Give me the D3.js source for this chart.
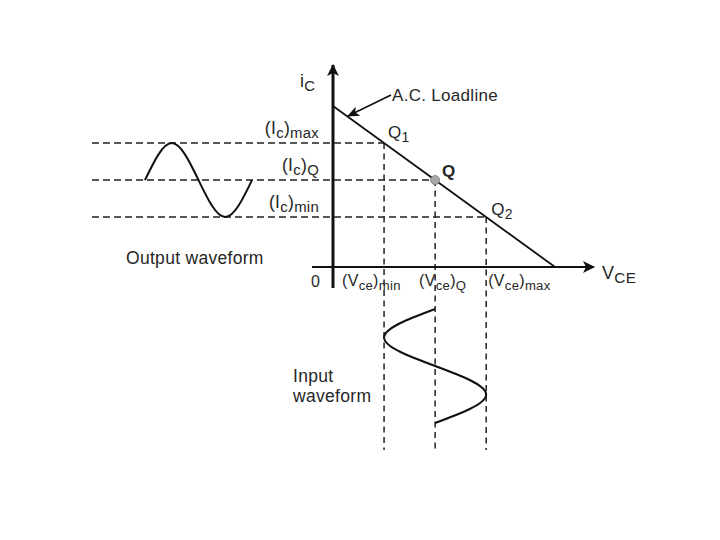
<!DOCTYPE html>
<html lang="en">
<head>
<meta charset="UTF-8">
<title>A.C. Loadline</title>
<script src="https://d3js.org/d3.v7.min.js"></script>
<style>
  body { margin: 0; background: #fff; }
  svg { display: block; font-family: "Liberation Sans", Arial, sans-serif; }
  text { fill: #262626; }
</style>
</head>
<body>
<div id="chart"></div>
<script>
// operating points on the load line: Q1, Q, Q2
const pointNames = ["Q1", "Q", "Q2"];
const icLevels = ["max", "Q", "min"];
const icValues = [7.7, 5.4, 3.1];
const vceValues = [2.3, 4.6, 6.9];
// load line end points (vce, ic)
const loadline = [[0, 10], [10, 0]];
// output waveform: one cycle of ic
const outPhase = [0, 0.25, 0.5, 0.75, 1];
const outIc = [5.4, 7.7, 5.4, 3.1, 5.4];
// input waveform: one cycle of vce (drawn downwards)
const inPhase = [0, 0.25, 0.5, 0.75, 1];
const inVce = [4.6, 2.3, 4.6, 6.9, 4.6];

const width = 720, height = 540;
const svg = d3.select("#chart").append("svg")
  .attr("width", width).attr("height", height);

const x = d3.scaleLinear().domain([0, 10]).range([333, 555]);
const y = d3.scaleLinear().domain([0, 10]).range([267, 106]);
const tOut = d3.scaleLinear().domain([0, 1]).range([145, 252]);
const tIn = d3.scaleLinear().domain([0, 1]).range([309, 423]);

// arrow heads
const defs = svg.append("defs");
defs.append("marker").attr("id", "axisArrow")
  .attr("viewBox", "0 0 12 12").attr("refX", 11).attr("refY", 6)
  .attr("markerWidth", 12).attr("markerHeight", 12)
  .attr("markerUnits", "userSpaceOnUse").attr("orient", "auto")
  .append("path").attr("d", "M0,0 L12,6 L0,12 L3,6 Z").attr("fill", "#111");
defs.append("marker").attr("id", "noteArrow")
  .attr("viewBox", "0 0 12 12").attr("refX", 11).attr("refY", 6)
  .attr("markerWidth", 12).attr("markerHeight", 12)
  .attr("markerUnits", "userSpaceOnUse").attr("orient", "auto")
  .append("path").attr("d", "M0,1 L12,6 L0,11 L3,6 Z").attr("fill", "#111");

const dashed = svg.append("g")
  .attr("stroke", "#222").attr("stroke-width", 1.5).attr("fill", "none");

// horizontal dashed lines from far left to each operating point
dashed.selectAll("line.h").data(icValues).join("line")
  .attr("class", "h")
  .attr("x1", 92).attr("x2", (d, i) => x(vceValues[i]))
  .attr("y1", d => y(d)).attr("y2", d => y(d))
  .attr("stroke-dasharray", "7,4");

// vertical dashed lines down through the input waveform
dashed.selectAll("line.v").data(vceValues).join("line")
  .attr("class", "v")
  .attr("x1", d => x(d)).attr("x2", d => x(d))
  .attr("y1", (d, i) => y(icValues[i])).attr("y2", 450)
  .attr("stroke-dasharray", "6,4.5");

// axes
svg.append("line")
  .attr("x1", x(0)).attr("x2", x(0)).attr("y1", 288).attr("y2", 65)
  .attr("stroke", "#111").attr("stroke-width", 3)
  .attr("marker-end", "url(#axisArrow)");
svg.append("line")
  .attr("x1", 312).attr("x2", 594).attr("y1", y(0)).attr("y2", y(0))
  .attr("stroke", "#111").attr("stroke-width", 2.2)
  .attr("marker-end", "url(#axisArrow)");

// load line
svg.append("path")
  .datum(loadline)
  .attr("d", d3.line().x(d => x(d[0])).y(d => y(d[1])))
  .attr("stroke", "#111").attr("stroke-width", 1.8).attr("fill", "none");

// Q point
svg.append("circle")
  .attr("cx", x(vceValues[1])).attr("cy", y(icValues[1])).attr("r", 4.5)
  .attr("fill", "#a8a8a8").attr("stroke", "#777").attr("stroke-width", 0.8);

// waveforms
svg.append("path")
  .datum(outPhase.map((t, i) => [t, outIc[i]]))
  .attr("d", d3.line().curve(d3.curveNatural).x(d => tOut(d[0])).y(d => y(d[1])))
  .attr("stroke", "#111").attr("stroke-width", 2).attr("fill", "none");
svg.append("path")
  .datum(inPhase.map((t, i) => [t, inVce[i]]))
  .attr("d", d3.line().curve(d3.curveNatural).x(d => x(d[1])).y(d => tIn(d[0])))
  .attr("stroke", "#111").attr("stroke-width", 2).attr("fill", "none");

// annotation arrow to the load line
svg.append("line")
  .attr("x1", 391).attr("y1", 95).attr("x2", 348).attr("y2", 116)
  .attr("stroke", "#111").attr("stroke-width", 1.6)
  .attr("marker-end", "url(#noteArrow)");

// text with subscripts: parts = [[text, isSub], ...]
function label(px, py, parts, size, anchor, subScale) {
  const k = subScale || 0.82;
  const t = svg.append("text").attr("x", px).attr("y", py)
    .attr("font-size", size).attr("text-anchor", anchor || "start")
    .attr("letter-spacing", 0.3);
  let low = false;
  parts.forEach(([s, sub]) => {
    const dy = sub && !low ? 4 : (!sub && low ? -4 : 0);
    low = sub;
    t.append("tspan").attr("dy", dy)
      .attr("font-size", sub ? size * k : size).text(s);
  });
  return t;
}

label(300, 87, [["i", false], ["C", true]], 18);
label(392, 101, [["A.C. Loadline", false]], 17);
label(602, 279, [["V", false], ["CE", true]], 18, "start", 0.85);
label(311, 287, [["0", false]], 16);

icLevels.forEach((name, i) => {
  label(319, y(icValues[i]) - 9, [["(I", false], ["c", true], [")", false], [name, true]], 17.5, "end", 0.85);
});

const vceOffsets = [-42, -16, 2];
icLevels.slice().reverse().forEach((name, i) => {
  label(x(vceValues[i]) + vceOffsets[i], 286,
    [["(V", false], ["ce", true], [")", false], [name, true]], 16);
});

const qOffsets = [[4, -5], [7, -3], [5, -2]];
pointNames.forEach((name, i) => {
  const px = x(vceValues[i]) + qOffsets[i][0];
  const py = y(icValues[i]) + qOffsets[i][1];
  if (name.length > 1) label(px, py, [[name[0], false], [name[1], true]], 17);
  else label(px, py, [[name, false]], 17).attr("font-weight", "bold");
});

label(126, 264, [["Output waveform", false]], 17.5);
label(293, 382, [["Input", false]], 17.5);
label(293, 402, [["waveform", false]], 17.5);
</script>
</body>
</html>
